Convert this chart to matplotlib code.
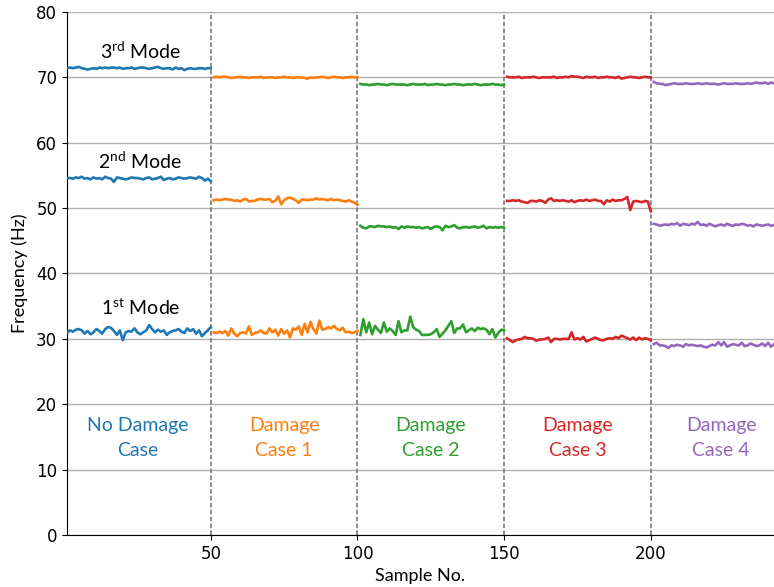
import numpy as np
import matplotlib
matplotlib.use('Agg')
import matplotlib.pyplot as plt

case_starts = [1, 51, 101, 151, 201]
case_names = ['No Damage\nCase', 'Damage\nCase 1', 'Damage\nCase 2', 'Damage\nCase 3', 'Damage\nCase 4']
case_colors = ['#1f77b4', '#ff7f0e', '#2ca02c', '#d62728', '#9467bd']
boundaries = [50, 100, 150, 200]

# 1st mode, one list per case
mode1_nd = [30.9, 31.3, 31.1, 31.4, 31.5, 31.3, 30.8, 31.2, 30.7, 31.0, 31.5, 31.2, 30.8, 31.5, 31.8, 31.7, 31.2,
            30.6, 31.3, 29.8, 31.0, 31.2, 31.1, 31.6, 31.0, 30.7, 31.0, 31.3, 32.1, 31.5, 31.0, 31.4, 31.1, 31.3,
            30.6, 31.0, 31.2, 31.3, 31.5, 31.1, 30.9, 31.6, 31.2, 31.5, 30.8, 31.3, 30.4, 30.9, 31.3, 31.8]
mode1_d1 = [31.0, 30.9, 31.1, 30.9, 31.2, 30.5, 31.6, 30.8, 30.4, 30.9, 31.0, 30.8, 31.9, 30.6, 30.9, 31.0, 31.3,
            30.9, 30.8, 31.6, 31.0, 31.4, 30.5, 31.5, 30.8, 31.3, 30.2, 31.6, 31.4, 31.9, 30.6, 32.3, 31.0, 32.6,
            31.5, 30.8, 32.8, 31.4, 31.5, 31.8, 31.6, 32.0, 31.5, 31.3, 31.7, 31.0, 31.1, 30.9, 31.0, 31.2]
mode1_d2 = [30.6, 33.0, 31.0, 32.5, 30.7, 32.0, 31.4, 30.9, 32.5, 31.1, 31.6, 31.2, 30.6, 32.7, 31.0, 31.3, 31.3,
            33.4, 31.8, 31.4, 31.2, 30.6, 30.6, 30.6, 30.7, 31.0, 31.5, 30.3, 30.8, 31.3, 32.0, 32.7, 30.9, 31.6,
            31.6, 32.2, 31.0, 31.3, 31.6, 31.2, 31.7, 31.5, 31.6, 31.4, 30.7, 31.5, 30.2, 30.9, 31.4, 31.3]
mode1_d3 = [30.1, 29.8, 29.5, 29.8, 29.9, 30.0, 30.3, 30.1, 30.1, 30.0, 29.7, 29.9, 29.9, 30.0, 30.2, 29.5, 30.0,
            30.0, 29.9, 30.0, 30.0, 30.0, 31.0, 29.9, 30.1, 29.9, 30.3, 29.6, 29.8, 30.0, 30.2, 30.0, 29.8, 29.8,
            30.0, 30.1, 30.0, 30.3, 30.1, 30.5, 30.3, 30.1, 29.9, 30.2, 29.8, 30.2, 29.9, 30.1, 30.0, 29.8]
mode1_d4 = [29.2, 29.4, 29.0, 29.0, 28.9, 28.6, 29.0, 28.9, 29.1, 29.0, 28.8, 29.2, 29.0, 29.1, 29.0, 28.9, 29.0,
            28.8, 28.7, 28.9, 29.1, 29.0, 29.5, 29.0, 29.5, 28.8, 29.0, 29.2, 29.1, 29.0, 29.4, 28.9, 29.0, 29.3,
            29.1, 28.9, 29.0, 29.3, 28.9, 29.4, 28.8, 29.2]

# 2nd mode
mode2_nd = [54.6, 54.6, 54.5, 54.7, 54.6, 54.8, 54.5, 54.6, 54.4, 54.7, 54.5, 54.6, 54.4, 54.8, 54.6, 54.5, 54.0,
            54.7, 54.6, 54.5, 54.4, 54.5, 54.7, 54.6, 54.6, 54.5, 54.4, 54.6, 54.7, 54.4, 54.5, 54.6, 54.8, 54.3,
            54.5, 54.6, 54.4, 54.5, 54.7, 54.6, 54.5, 54.6, 54.7, 54.6, 54.5, 54.8, 54.6, 54.2, 54.5, 54.1]
mode2_d1 = [51.2, 51.3, 51.2, 51.3, 51.4, 51.3, 51.3, 51.1, 51.2, 51.0, 51.3, 51.4, 51.0, 51.1, 51.1, 51.3, 51.4,
            51.3, 51.3, 51.4, 50.9, 51.1, 51.8, 50.6, 51.2, 51.5, 51.6, 51.4, 51.2, 50.8, 51.3, 51.3, 51.2, 51.3,
            51.3, 51.5, 51.3, 51.4, 51.3, 51.2, 51.4, 51.2, 51.3, 51.2, 51.1, 51.0, 51.2, 51.0, 50.8, 50.5]
mode2_d2 = [47.3, 47.0, 46.9, 47.2, 47.2, 47.1, 47.3, 47.2, 47.2, 47.1, 47.2, 47.0, 47.1, 46.8, 47.2, 47.0, 47.2,
            47.1, 47.1, 47.0, 47.1, 46.9, 47.0, 47.1, 46.8, 47.1, 47.2, 47.1, 46.6, 47.3, 47.1, 47.2, 47.4, 47.0,
            46.9, 47.1, 47.1, 47.0, 47.1, 47.2, 47.0, 47.1, 47.3, 46.9, 47.1, 47.0, 47.1, 47.0, 47.1, 47.0]
mode2_d3 = [51.1, 51.1, 51.2, 51.1, 51.2, 51.0, 50.9, 50.8, 51.1, 51.1, 51.0, 51.2, 51.1, 50.8, 51.3, 51.5, 51.1,
            51.2, 51.1, 51.2, 51.1, 51.0, 51.2, 50.9, 51.1, 51.2, 51.1, 51.3, 51.1, 51.2, 51.3, 51.1, 51.1, 50.6,
            51.2, 51.0, 51.3, 51.1, 51.2, 51.2, 51.4, 51.7, 49.7, 51.0, 51.1, 51.0, 50.9, 51.1, 51.0, 49.5]
mode2_d4 = [47.6, 47.5, 47.3, 47.4, 47.5, 47.4, 47.6, 47.5, 47.7, 47.3, 47.6, 47.5, 47.4, 47.6, 47.5, 47.9, 47.4,
            47.5, 47.3, 47.6, 47.4, 47.2, 47.4, 47.5, 47.3, 47.6, 47.4, 47.3, 47.5, 47.4, 47.6, 47.5, 47.3, 47.4,
            47.2, 47.5, 47.4, 47.3, 47.4, 47.5, 47.3, 47.4]

# 3rd mode
mode3_nd = [71.4, 71.5, 71.4, 71.5, 71.6, 71.4, 71.3, 71.2, 71.3, 71.4, 71.3, 71.5, 71.4, 71.5, 71.4, 71.5, 71.5,
            71.4, 71.5, 71.3, 71.4, 71.4, 71.5, 71.3, 71.4, 71.5, 71.5, 71.4, 71.3, 71.4, 71.5, 71.6, 71.4, 71.3,
            71.4, 71.4, 71.2, 71.5, 71.3, 71.4, 71.1, 71.3, 71.4, 71.3, 71.3, 71.4, 71.4, 71.3, 71.4, 71.4]
mode3_d1 = [70.0, 70.1, 70.0, 70.1, 70.1, 70.0, 69.9, 70.0, 70.0, 70.1, 70.0, 70.0, 69.9, 70.0, 70.0, 70.0, 70.1,
            69.9, 70.0, 70.0, 70.0, 69.9, 70.0, 70.0, 70.1, 70.0, 70.0, 69.9, 70.0, 70.0, 70.0, 69.9, 69.8, 70.0,
            69.9, 70.0, 70.0, 70.1, 70.0, 69.9, 70.0, 70.1, 70.0, 70.0, 69.9, 70.0, 70.0, 70.1, 70.0, 70.0]
mode3_d2 = [69.0, 68.9, 68.9, 68.8, 68.9, 68.9, 69.0, 68.9, 68.9, 68.8, 68.9, 69.0, 68.9, 68.9, 68.9, 68.9, 68.8,
            68.9, 69.0, 68.9, 68.9, 68.9, 69.0, 68.8, 68.9, 68.9, 69.0, 68.9, 68.9, 68.8, 68.9, 68.9, 69.0, 68.9,
            68.9, 68.8, 68.9, 68.9, 68.9, 69.0, 68.9, 68.8, 68.9, 68.9, 68.9, 69.0, 68.9, 68.9, 68.8, 68.9]
mode3_d3 = [70.1, 70.0, 70.0, 70.0, 70.1, 69.9, 70.0, 70.0, 70.0, 70.1, 70.0, 69.9, 70.0, 70.0, 70.0, 70.0, 70.1,
            69.9, 70.0, 70.0, 70.1, 70.0, 70.2, 70.1, 70.1, 70.0, 69.9, 70.1, 70.0, 70.0, 70.1, 69.9, 70.0, 70.0,
            70.1, 70.0, 70.0, 69.9, 70.1, 69.8, 69.9, 70.0, 70.1, 70.0, 70.0, 69.9, 70.0, 70.1, 70.0, 70.0]
mode3_d4 = [69.3, 69.1, 69.0, 69.0, 68.8, 68.9, 69.0, 69.1, 69.0, 69.0, 69.0, 69.1, 69.0, 69.0, 69.0, 69.1, 69.0,
            69.0, 69.1, 69.0, 69.0, 69.0, 68.9, 69.0, 69.1, 69.0, 69.0, 69.0, 69.1, 69.0, 69.0, 69.0, 69.1, 69.0,
            69.1, 69.2, 69.1, 69.1, 69.2, 69.0, 69.2, 69.1]

mode1 = [mode1_nd, mode1_d1, mode1_d2, mode1_d3, mode1_d4]
mode2 = [mode2_nd, mode2_d1, mode2_d2, mode2_d3, mode2_d4]
mode3 = [mode3_nd, mode3_d1, mode3_d2, mode3_d3, mode3_d4]

label_font = 'Lato'
plt.rcParams['mathtext.fontset'] = 'custom'
plt.rcParams['mathtext.rm'] = label_font

fig = plt.figure(figsize=(7.74, 5.87), dpi=100)
ax = fig.add_axes([0.0866, 0.0886, 0.9134, 0.891])

for i in range(5):
    for mode in [mode1, mode2, mode3]:
        vals = mode[i]
        xs = np.arange(case_starts[i], case_starts[i] + len(vals))
        ax.plot(xs, vals, color=case_colors[i], linewidth=1.9, zorder=3)

for b in boundaries:
    ax.axvline(b, color='#707070', linestyle=(0, (3, 1.5)), linewidth=1.1, zorder=2)

ax.set_xlim(1, 242)
ax.set_ylim(0, 80)
ax.set_xticks([50, 100, 150, 200])
ax.set_yticks(range(0, 81, 10))
ax.yaxis.grid(True, color='#b0b0b0', linewidth=1)
ax.set_axisbelow(True)
ax.spines['top'].set_visible(False)
ax.spines['right'].set_visible(False)
ax.tick_params(labelsize=12)

ax.set_xlabel('Sample No.', fontsize=13, family=label_font, labelpad=4)
ax.set_ylabel('Frequency (Hz)', fontsize=13, family=label_font, labelpad=6)

ax.text(26, 74.0, r'3$^{\rm rd}$ Mode', ha='center', va='center', fontsize=14, family=label_font)
ax.text(26, 57.2, r'2$^{\rm nd}$ Mode', ha='center', va='center', fontsize=14, family=label_font)
ax.text(26, 34.8, r'1$^{\rm st}$ Mode', ha='center', va='center', fontsize=14, family=label_font)

label_x = [25, 75, 125, 175, 224]
for i in range(5):
    ax.text(label_x[i], 14.8, case_names[i], ha='center', va='center', fontsize=14,
            color=case_colors[i], family=label_font, linespacing=1.55)

plt.savefig('out.png', dpi=100)
